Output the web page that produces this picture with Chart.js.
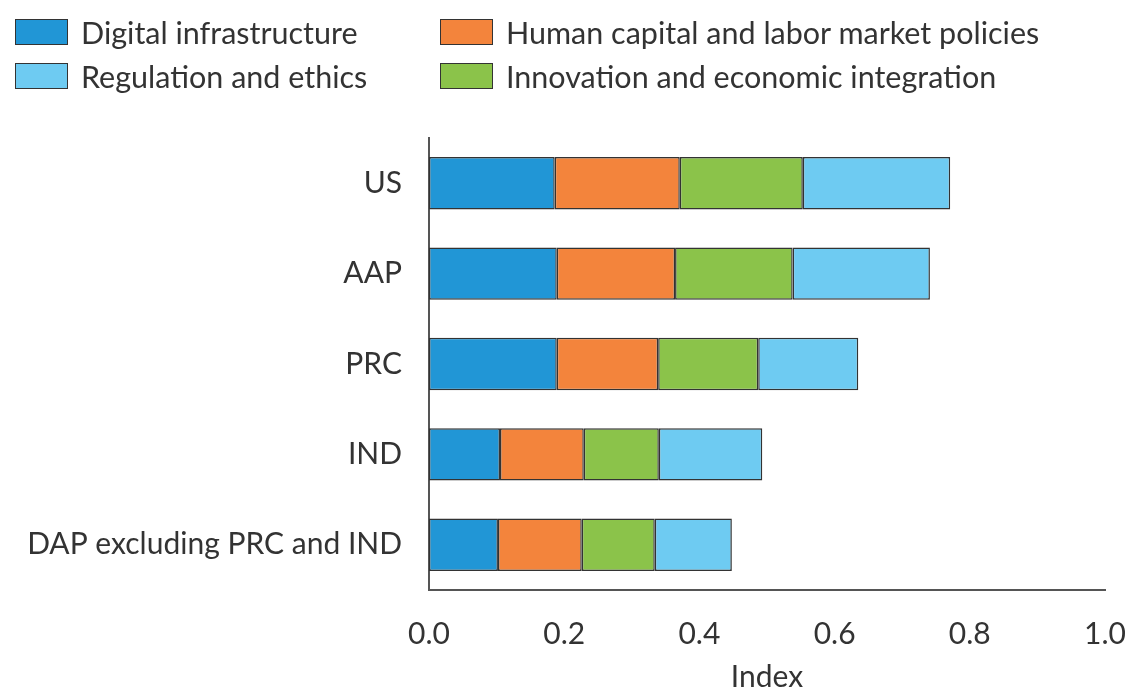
<!DOCTYPE html>
<html>
<head>
<meta charset="utf-8">
<script src="https://cdn.jsdelivr.net/npm/chart.js@4"></script>
<style>
  body { margin: 0; background: #fff; }
  #wrap { position: relative; width: 1132px; height: 695px; }
  #legend { position: absolute; left: 15px; top: 14px; font-family: Lato, sans-serif; font-size: 30.5px; color: #333; }
  .item { position: absolute; white-space: nowrap; display: flex; align-items: center; }
  .box { width: 51px; height: 24px; border: 1.5px solid #333; margin-right: 13px; }
</style>
</head>
<body>
<div id="wrap">
  <canvas id="chart" width="1132" height="695"></canvas>
  <div id="legend"></div>
</div>
<script>
// categories and segment values (index units)
const countries = ["US", "AAP", "PRC", "IND", "DAP excluding PRC and IND"];
const digitalInfra = [0.186, 0.189, 0.189, 0.105, 0.102];
const humanCapital = [0.185, 0.175, 0.150, 0.124, 0.124];
const innovation = [0.182, 0.174, 0.148, 0.111, 0.108];
const regulation = [0.218, 0.203, 0.148, 0.153, 0.114];
const xTicks = [0.0, 0.2, 0.4, 0.6, 0.8, 1.0];

const colors = {
  digital: "#2196d6",
  human: "#f3843c",
  innov: "#8bc34a",
  reg: "#6ecbf2",
};

// legend laid out as a 2x2 grid like the original
const legendItems = [
  { label: "Digital infrastructure", color: colors.digital, x: 0, y: 0 },
  { label: "Human capital and labor market policies", color: colors.human, x: 425, y: 0 },
  { label: "Regulation and ethics", color: colors.reg, x: 0, y: 44 },
  { label: "Innovation and economic integration", color: colors.innov, x: 425, y: 44 },
];
const legendEl = document.getElementById("legend");
legendItems.forEach((it) => {
  const d = document.createElement("div");
  d.className = "item";
  d.style.left = it.x + "px";
  d.style.top = it.y + "px";
  d.innerHTML = '<span class="box" style="background:' + it.color + '"></span>' + it.label;
  legendEl.appendChild(d);
});

const ds = (label, data, color) => ({
  label,
  data,
  backgroundColor: color,
  borderColor: "#333",
  borderWidth: 1.5,
  borderSkipped: false,
  barPercentage: 0.58,
  categoryPercentage: 1.0,
});

new Chart(document.getElementById("chart"), {
  type: "bar",
  data: {
    labels: countries,
    datasets: [
      ds("Digital infrastructure", digitalInfra, colors.digital),
      ds("Human capital and labor market policies", humanCapital, colors.human),
      ds("Innovation and economic integration", innovation, colors.innov),
      ds("Regulation and ethics", regulation, colors.reg),
    ],
  },
  options: {
    responsive: false,
    animation: false,
    indexAxis: "y",
    layout: { padding: { top: 138, right: 27, bottom: 0, left: 0 } },
    plugins: { legend: { display: false }, tooltip: { enabled: false } },
    scales: {
      x: {
        stacked: true,
        min: 0,
        max: 1,
        afterBuildTicks: (scale) => {
          scale.ticks = xTicks.map((v) => ({ value: v }));
        },
        afterFit: (scale) => {
          scale.height = 105;
          scale.paddingRight = 0;
        },
        grid: { display: false, drawTicks: false },
        border: { display: true, color: "#555", width: 2 },
        ticks: {
          padding: 26,
          color: "#333",
          font: { family: "Lato", size: 30 },
          callback: (v) => Number(v).toFixed(1),
        },
        title: {
          display: true,
          text: "Index",
          color: "#333",
          font: { family: "Lato", size: 30 },
          padding: { top: 10, bottom: 0 },
        },
      },
      y: {
        stacked: true,
        afterFit: (scale) => { scale.width = 429; },
        grid: { display: false, drawTicks: false },
        border: { display: true, color: "#555", width: 2 },
        ticks: {
          padding: 27,
          color: "#333",
          font: { family: "Lato", size: 30 },
        },
      },
    },
  },
});
</script>
</body>
</html>
